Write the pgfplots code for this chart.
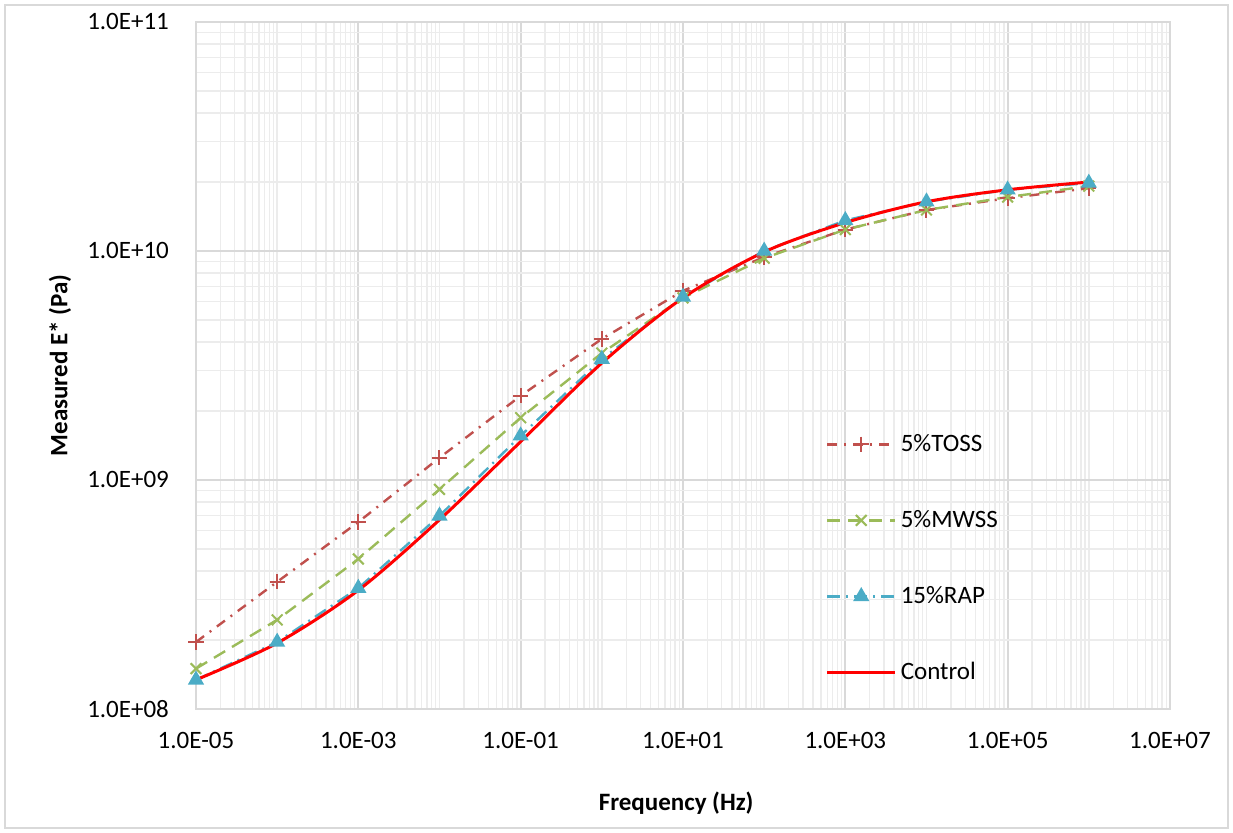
\documentclass[border=0pt]{standalone}
\usepackage{pgfplots}
\pgfplotsset{compat=1.18}
\usepackage{fontspec}
\setmainfont{Carlito}
\definecolor{toss}{HTML}{C0504D}
\definecolor{mwss}{HTML}{9BBB59}
\definecolor{rap}{HTML}{4BACC6}
\definecolor{ctrl}{HTML}{FF0000}
\definecolor{majg}{HTML}{D9D9D9}
\definecolor{ming}{HTML}{ECECEC}
\begin{document}
\begin{tikzpicture}
\path (-98pt,-62pt) rectangle (518.5pt,354.5pt);
\draw[majg, line width=0.6pt] (-95.5pt,-59.5pt) rectangle (516pt,352pt);
\begin{axis}[
  at={(0,0)}, anchor=south west,
  xmode=log, ymode=log, scale only axis,
  width=487pt, height=343.5pt,
  xmin=1e-5, xmax=1e7, ymin=1e8, ymax=1e11,
  xtick={1e-5,1e-3,1e-1,1e1,1e3,1e5,1e7},
  xticklabels={1.0E-05,1.0E-03,1.0E-01,1.0E+01,1.0E+03,1.0E+05,1.0E+07},
  ytick={1e8,1e9,1e10,1e11},
  yticklabels={1.0E+08,1.0E+09,1.0E+10,1.0E+11},
  minor xtick={2e-5,3e-5,4e-5,5e-5,6e-5,7e-5,8e-5,9e-5,1e-4,
    2e-4,3e-4,4e-4,5e-4,6e-4,7e-4,8e-4,9e-4,
    2e-3,3e-3,4e-3,5e-3,6e-3,7e-3,8e-3,9e-3,1e-2,
    2e-2,3e-2,4e-2,5e-2,6e-2,7e-2,8e-2,9e-2,
    0.2,0.3,0.4,0.5,0.6,0.7,0.8,0.9,1,
    2,3,4,5,6,7,8,9,
    20,30,40,50,60,70,80,90,100,
    200,300,400,500,600,700,800,900,
    2000,3000,4000,5000,6000,7000,8000,9000,1e4,
    2e4,3e4,4e4,5e4,6e4,7e4,8e4,9e4,
    2e5,3e5,4e5,5e5,6e5,7e5,8e5,9e5,1e6,
    2e6,3e6,4e6,5e6,6e6,7e6,8e6,9e6},
  minor ytick={2e8,3e8,4e8,5e8,6e8,7e8,8e8,9e8,
    2e9,3e9,4e9,5e9,6e9,7e9,8e9,9e9,
    2e10,3e10,4e10,5e10,6e10,7e10,8e10,9e10},
  grid=both,
  major grid style={majg, line width=0.9pt},
  minor grid style={ming, line width=0.7pt},
  major tick length=0pt, minor tick length=0pt,
  axis line style={majg, line width=0.9pt},
  tick label style={font=\fontsize{12.5}{14}\selectfont},
  xticklabel style={yshift=-8pt},
  yticklabel style={xshift=-10pt},
  xlabel={\textbf{Frequency (Hz)}},
  ylabel={\textbf{Measured E* (Pa)}},
  label style={font=\fontsize{12.5}{14}\selectfont},
  xlabel style={at={(axis description cs:0.493,-0.137)}, anchor=center},
  ylabel style={at={(axis description cs:-0.1396,0.5)}, anchor=center},
  legend style={at={(axis description cs:0.64,0.412)}, anchor=north west,
    draw=none, fill=none, row sep=24pt,
    font=\fontsize{12.5}{14}\selectfont},
  legend cell align=left,
  legend image code/.code={\draw[mark repeat=2,mark phase=2,#1] plot coordinates {(0pt,0pt)(17pt,0pt)(34pt,0pt)};},
]
\addplot[toss, line width=1.2pt, dash pattern=on 5pt off 3.5pt on 1pt off 3.5pt,
  mark=+, mark size=3.8pt, mark options={solid, line width=1pt}] coordinates {
  (1e-5,1.96e8) (1e-4,3.59e8) (1e-3,6.55e8) (1e-2,1.25e9) (1e-1,2.33e9)
  (1e0,4.13e9) (1e1,6.7e9) (1e2,9.4e9) (1e3,1.24e10) (1e4,1.51e10)
  (1e5,1.70e10) (1e6,1.88e10)};
\addlegendentry{5\%TOSS}
\addplot[mwss, line width=1.2pt, dash pattern=on 6.5pt off 4pt,
  mark=x, mark size=3.8pt, mark options={solid, line width=1pt}] coordinates {
  (1e-5,1.50e8) (1e-4,2.45e8) (1e-3,4.52e8) (1e-2,9.1e8) (1e-1,1.87e9)
  (1e0,3.58e9) (1e1,6.24e9) (1e2,9.3e9) (1e3,1.24e10) (1e4,1.51e10)
  (1e5,1.72e10) (1e6,1.92e10)};
\addlegendentry{5\%MWSS}
\addplot[rap, line width=1.2pt, dash pattern=on 6.5pt off 3pt on 1pt off 3pt,
  mark=triangle*, mark size=3.5pt, mark options={solid}] coordinates {
  (1e-5,1.34e8) (1e-4,1.96e8) (1e-3,3.37e8) (1e-2,6.97e8) (1e-1,1.56e9)
  (1e0,3.37e9) (1e1,6.3e9) (1e2,1.0e10) (1e3,1.36e10) (1e4,1.64e10)
  (1e5,1.85e10) (1e6,1.98e10)};
\addlegendentry{15\%RAP}
\addplot[ctrl, line width=1.5pt, smooth, no markers] coordinates {
  (1e-5,1.34e8) (1e-4,1.94e8) (1e-3,3.3e8) (1e-2,6.7e8) (1e-1,1.47e9)
  (1e0,3.24e9) (1e1,6.24e9) (1e2,9.9e9) (1e3,1.33e10) (1e4,1.64e10)
  (1e5,1.85e10) (1e6,2.0e10)};
\addlegendentry{Control}
\end{axis}
\end{tikzpicture}
\end{document}
